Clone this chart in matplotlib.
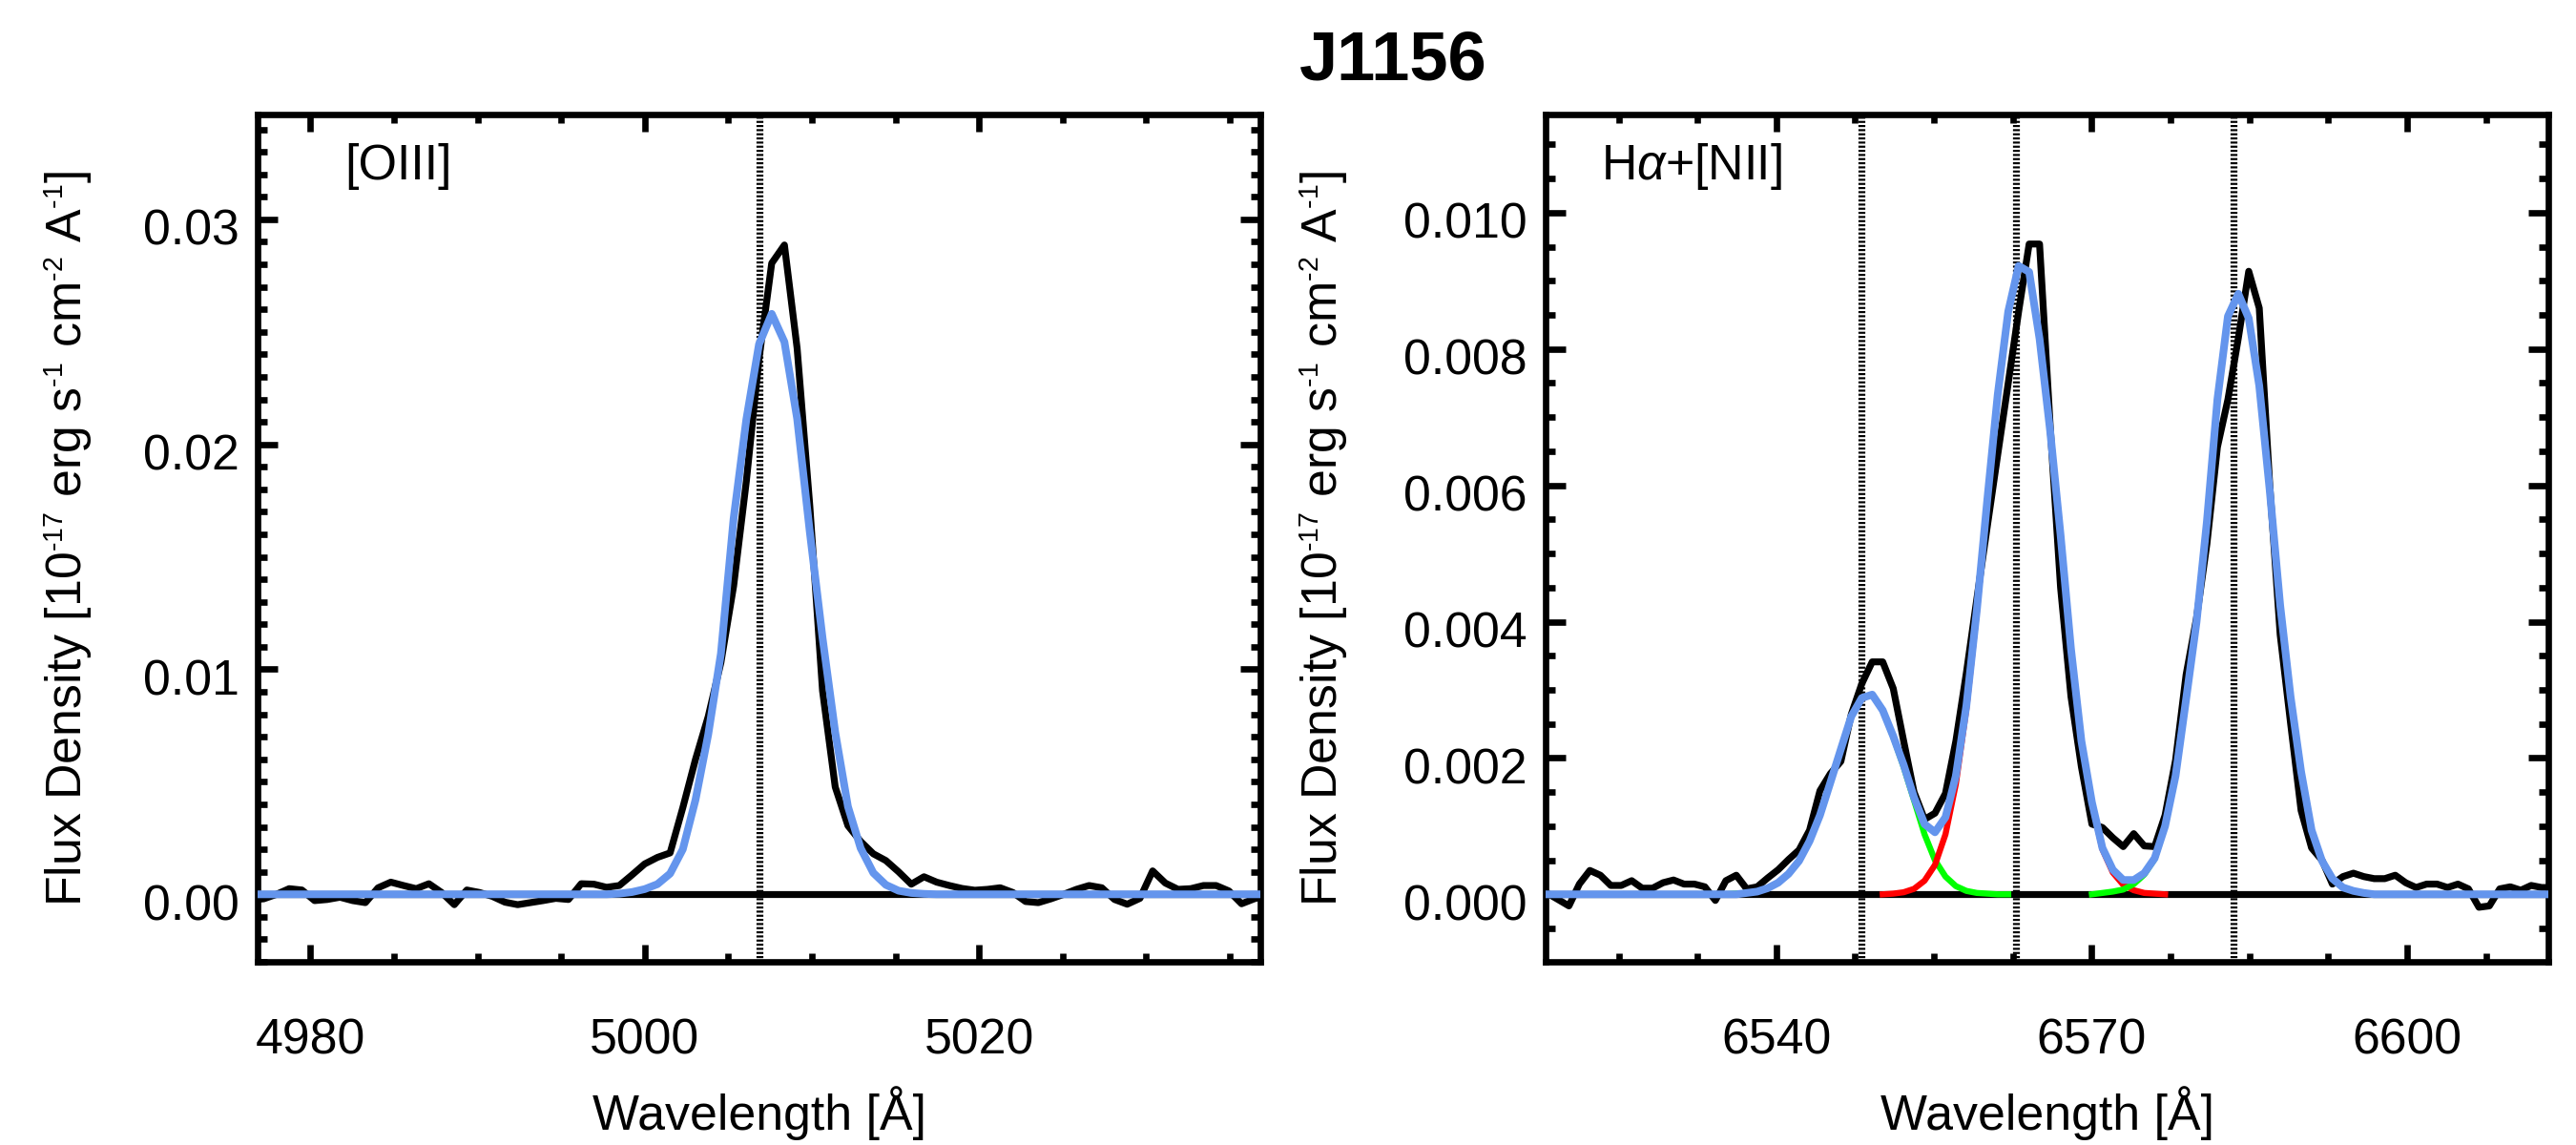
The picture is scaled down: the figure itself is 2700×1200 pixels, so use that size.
import numpy as np
import matplotlib
matplotlib.use('Agg')
import matplotlib.pyplot as plt
import matplotlib._mathtext as mtext
from matplotlib.ticker import MultipleLocator, FormatStrFormatter
from matplotlib import transforms

plt.rcParams['font.family'] = ['Liberation Sans', 'DejaVu Sans']
plt.rcParams['mathtext.fontset'] = 'custom'
plt.rcParams['mathtext.rm'] = 'Liberation Sans'
plt.rcParams['mathtext.it'] = 'Liberation Sans:italic'
plt.rcParams['mathtext.bf'] = 'Liberation Sans:bold'
# smaller superscripts, like the IDL labels
mtext.SHRINK_FACTOR = 0.55

# ---- [OIII] panel: spectrum pixels (rest frame) ----
oiii_wave = np.round(4976.45 + 0.7597 * np.arange(81), 2)
oiii_flux = [
    -0.00025, -0.00020, 0.00000, 0.00025, 0.00019, -0.00028, -0.00023, -0.00013,
    -0.00028, -0.00037, 0.00029, 0.00054, 0.00039, 0.00025, 0.00047, 0.00008,
    -0.00046, 0.00019, 0.00008, -0.00009, -0.00035, -0.00046, -0.00037, -0.00028,
    -0.00018, -0.00023, 0.00047, 0.00045, 0.00031, 0.00039, 0.00086, 0.00135,
    0.00164, 0.00184, 0.00385, 0.00600, 0.00790, 0.01030, 0.01370, 0.01835,
    0.02380, 0.02805, 0.02886, 0.02427, 0.01725, 0.00905, 0.00477, 0.00305,
    0.00235, 0.00180, 0.00150, 0.00100, 0.00045, 0.00078, 0.00054, 0.00039,
    0.00026, 0.00018, 0.00022, 0.00029, 0.00008, -0.00032, -0.00037, -0.00020,
    0.00000, 0.00022, 0.00039, 0.00029, -0.00023, -0.00044, -0.00018, 0.00104,
    0.00050, 0.00022, 0.00025, 0.00039, 0.00039, 0.00015, -0.00042, -0.00020,
    -0.00005,
]
oiii_model = [0.0] * 29 + [
    0.00003, 0.00010, 0.00023, 0.00045, 0.00092, 0.00200, 0.00420, 0.00710,
    0.01070, 0.01670, 0.02110, 0.02445, 0.02580, 0.02455, 0.02115, 0.01610,
    0.01140, 0.00720, 0.00390, 0.00205, 0.00095, 0.00042, 0.00016, 0.00006,
    0.00002,
] + [0.0] * 27
oiii_lines = [5006.84]

# ---- Halpha + [NII] panel ----
ha_wave = np.round(6518.28 + 0.995 * np.arange(97), 2)
ha_flux = [
    0.00001, -0.00008, -0.00017, 0.00015, 0.00035, 0.00028, 0.00013, 0.00013,
    0.00020, 0.00009, 0.00009, 0.00017, 0.00021, 0.00015, 0.00015, 0.00011,
    -0.00009, 0.00020, 0.00028, 0.00008, 0.00011, 0.00024, 0.00036, 0.00051,
    0.00065, 0.00094, 0.00152, 0.00177, 0.00195, 0.00264, 0.00309, 0.00341,
    0.00341, 0.00302, 0.00225, 0.00150, 0.00110, 0.00119, 0.00148, 0.00225,
    0.00325, 0.00434, 0.00540, 0.00645, 0.00750, 0.00855, 0.00954, 0.00954,
    0.00690, 0.00450, 0.00290, 0.00187, 0.00103, 0.00098, 0.00083, 0.00070,
    0.00089, 0.00071, 0.00070, 0.00116, 0.00197, 0.00322, 0.00405, 0.00514,
    0.00656, 0.00726, 0.00816, 0.00914, 0.00860, 0.00600, 0.00381, 0.00251,
    0.00123, 0.00068, 0.00050, 0.00015, 0.00026, 0.00031, 0.00026, 0.00023,
    0.00023, 0.00028, 0.00017, 0.00010, 0.00015, 0.00015, 0.00010, 0.00015,
    0.00008, -0.00019, -0.00017, 0.00008, 0.00011, 0.00006, 0.00013, 0.00010,
    0.00010,
]
ha_model = [0.0] * 19 + [
    0.00002, 0.00004, 0.00009, 0.00017, 0.00030, 0.00049, 0.00078, 0.00116,
    0.00164, 0.00213, 0.00261, 0.00288, 0.00293, 0.00270, 0.00232, 0.00190,
    0.00142, 0.00103, 0.00091, 0.00113, 0.00174, 0.00277, 0.00418, 0.00579,
    0.00733, 0.00855, 0.00922, 0.00913, 0.00815, 0.00681, 0.00527, 0.00360,
    0.00225, 0.00135, 0.00068, 0.00036, 0.00021, 0.00021, 0.00031, 0.00053,
    0.00100, 0.00174, 0.00286, 0.00399, 0.00547, 0.00726, 0.00848, 0.00881,
    0.00845, 0.00746, 0.00592, 0.00424, 0.00290, 0.00180, 0.00094, 0.00049,
    0.00023, 0.00010, 0.00005, 0.00002,
] + [0.0] * 18

# fitted components (drawn only near each line)
nii_a_wave = ha_wave[17:45]
nii_a_comp = [
    0.00000, 0.00001, 0.00002, 0.00004, 0.00009, 0.00017, 0.00030, 0.00049,
    0.00078, 0.00116, 0.00164, 0.00213, 0.00261, 0.00288, 0.00293, 0.00270,
    0.00231, 0.00187, 0.00138, 0.00088, 0.00050, 0.00026, 0.00012, 0.00005,
    0.00002, 0.00001, 0.00000, 0.00000,
]
halpha_wave = ha_wave[32:60]
halpha_comp = [
    0.00000, 0.00001, 0.00003, 0.00008, 0.00020, 0.00043, 0.00088, 0.00162,
    0.00272, 0.00416, 0.00578, 0.00733, 0.00855, 0.00922, 0.00913, 0.00815,
    0.00681, 0.00527, 0.00360, 0.00225, 0.00134, 0.00066, 0.00032, 0.00014,
    0.00006, 0.00002, 0.00001, 0.00000,
]
nii_b_wave = ha_wave[52:81]
nii_b_comp = [
    0.00000, 0.00002, 0.00004, 0.00007, 0.00015, 0.00029, 0.00052, 0.00100,
    0.00174, 0.00286, 0.00399, 0.00547, 0.00726, 0.00848, 0.00881, 0.00845,
    0.00746, 0.00592, 0.00424, 0.00290, 0.00180, 0.00094, 0.00049, 0.00023,
    0.00010, 0.00005, 0.00002, 0.00000, 0.00000,
]
ha_lines = [6548.05, 6562.80, 6583.45]

FS = 18.7
LW = 2.4
DLW = 2.6   # data line
BLUE = '#6495ED'

fig = plt.figure(figsize=(13.5, 6), dpi=200)
ax1 = fig.add_axes([0.1, 0.16, 0.3893, 0.74])
ax2 = fig.add_axes([0.6, 0.16, 0.3893, 0.74])


def style_axis(ax, xmaj, xmin, ymaj, ymin, yfmt):
    for s in ax.spines.values():
        s.set_linewidth(LW)
    ax.xaxis.set_major_locator(MultipleLocator(xmaj))
    ax.xaxis.set_minor_locator(MultipleLocator(xmin))
    ax.yaxis.set_major_locator(MultipleLocator(ymaj))
    ax.yaxis.set_minor_locator(MultipleLocator(ymin))
    ax.yaxis.set_major_formatter(FormatStrFormatter(yfmt))
    ax.xaxis.set_major_formatter(FormatStrFormatter('%d'))
    ax.tick_params(which='both', direction='in', top=True, right=True,
                   width=LW, labelsize=FS)
    ax.tick_params(axis='x', which='major', length=6.5, pad=21)
    ax.tick_params(axis='x', which='minor', length=3.2)
    ax.tick_params(axis='y', which='major', length=7.6, pad=7)
    ax.tick_params(axis='y', which='minor', length=3.6)


# left panel
ax1.axhline(0, color='black', lw=DLW, zorder=1)
for w in oiii_lines:
    ax1.axvline(w, color='black', lw=2.6, ls=(0, (0.3, 0.3)), zorder=1.5)
ax1.plot(oiii_wave, oiii_flux, color='black', lw=DLW, zorder=2)
ax1.plot(oiii_wave, oiii_model, color=BLUE, lw=2.9, zorder=4)
ax1.set_xlim(oiii_lines[0] - 30, oiii_lines[0] + 30)
ax1.set_ylim(-0.003, 0.03466)
style_axis(ax1, 20, 5, 0.01, 0.001, '%.2f')
ax1.text(0.0866, 0.923, '[OIII]', transform=ax1.transAxes, fontsize=FS,
         va='baseline', ha='left')

# right panel
ax2.axhline(0, color='black', lw=DLW, zorder=1)
for w in ha_lines:
    ax2.axvline(w, color='black', lw=2.6, ls=(0, (0.3, 0.3)), zorder=1.5)
ax2.plot(ha_wave, ha_flux, color='black', lw=DLW, zorder=2)
ax2.plot(nii_a_wave, nii_a_comp, color='#00FF00', lw=2.3, zorder=3)
ax2.plot(halpha_wave, halpha_comp, color='#FF0000', lw=2.3, zorder=3)
ax2.plot(nii_b_wave, nii_b_comp, color='#00FF00', lw=2.3, zorder=3)
ax2.plot(ha_wave, ha_model, color=BLUE, lw=2.9, zorder=4)
ax2.set_xlim(ha_lines[0] - 30, ha_lines[-1] + 30)
ax2.set_ylim(-0.00099, 0.01144)
style_axis(ax2, 30, 7.5, 0.002, 0.0005, '%.3f')
ax2.text(0.0555, 0.923, r'H$\alpha$+[NII]', transform=ax2.transAxes,
         fontsize=FS, va='baseline', ha='left')

ylab = (r'Flux Density [10$^{\text{-17}}$ erg s$^{\text{-1}}$ '
        r'cm$^{\text{-2}}$ A$^{\text{-1}}$]')
for ax, ylx in ((ax1, -0.1627), (ax2, -0.1954)):
    ax.set_xlabel('Wavelength [Å]', fontsize=FS)
    ax.xaxis.set_label_coords(0.5, -0.1464)
    ax.set_ylabel(ylab, fontsize=FS)
    ax.yaxis.set_label_coords(ylx, 0.5)
    # IDL puts y tick labels a little below the tick
    shift = transforms.ScaledTranslation(0, -8 / 200, fig.dpi_scale_trans)
    for lab in ax.get_yticklabels():
        lab.set_transform(lab.get_transform() + shift)

fig.text(0.5407, 0.9308, 'J1156', fontsize=26, fontweight='bold',
         ha='center', va='baseline')

fig.savefig('out.png', dpi=200)
